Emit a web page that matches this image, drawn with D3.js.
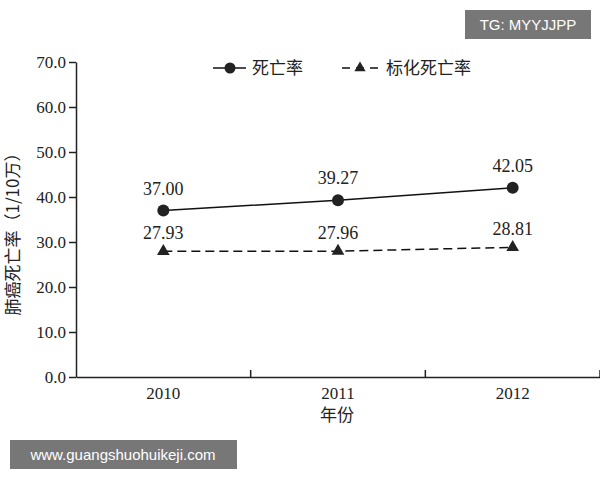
<!DOCTYPE html><html><head><meta charset="utf-8"><script src="https://cdn.jsdelivr.net/npm/d3@7"></script>
<style>body{margin:0;background:#fff}.s{font-family:"Liberation Serif","Times New Roman","DejaVu Serif",serif}.k{font-family:"Noto Sans CJK SC",sans-serif}</style></head><body><svg id="c" width="600" height="480"></svg><script>
const years=["2010","2011","2012"];
const rate=[37.00,39.27,42.05];
const stdRate=[27.93,27.96,28.81];
const yTicks=[0,10,20,30,40,50,60,70];
const svg=d3.select("#c");
const x=d3.scaleBand().domain(years).range([76,600]);
const y=d3.scaleLinear().domain([0,70]).range([377,62]);
const ya=svg.append("g").attr("transform","translate(76,0)").call(d3.axisLeft(y).tickValues(yTicks).tickFormat(d3.format(".1f")).tickSize(7).tickSizeOuter(0));
const xa=svg.append("g").attr("transform","translate(0,377)").call(d3.axisBottom(x).tickSize(0).tickSizeOuter(0).tickPadding(10));
[ya,xa].forEach(a=>{a.attr("font-family",null);a.selectAll("path,line").attr("stroke","#222").attr("stroke-width",1.5);a.selectAll("text").attr("class","s").attr("font-size",17).attr("fill","#222");});
xa.selectAll(".b").data(years).enter().append("line").attr("x1",d=>x(d)+x.bandwidth()).attr("x2",d=>x(d)+x.bandwidth()).attr("y1",0).attr("y2",-7).attr("stroke","#222").attr("stroke-width",1.5);
const cx=d=>x(d)+x.bandwidth()/2;
const line=d3.line().x((d,i)=>cx(years[i])).y(d=>y(d));
svg.append("path").attr("d",line(rate)).attr("fill","none").attr("stroke","#111").attr("stroke-width",1.5);
svg.append("path").attr("d",line(stdRate)).attr("fill","none").attr("stroke","#111").attr("stroke-width",1.5).attr("stroke-dasharray","9,5");
svg.selectAll(".c").data(rate).enter().append("circle").attr("cx",(d,i)=>cx(years[i])).attr("cy",d=>y(d)).attr("r",6).attr("fill","#222");
const tri=d3.symbol().type(d3.symbolTriangle).size(70);
svg.selectAll(".t").data(stdRate).enter().append("path").attr("d",tri).attr("transform",(d,i)=>`translate(${cx(years[i])},${y(d)})`).attr("fill","#222");
const lab=(arr,dy)=>svg.selectAll(null).data(arr).enter().append("text").attr("class","s").attr("x",(d,i)=>cx(years[i])).attr("y",d=>y(d)+dy).attr("text-anchor","middle").attr("font-size",18).attr("fill","#222").text(d=>d.toFixed(2));
lab(rate,-16);lab(stdRate,-12);
const lg=svg.append("g");
lg.append("line").attr("x1",213).attr("x2",246).attr("y1",68).attr("y2",68).attr("stroke","#111").attr("stroke-width",1.5);
lg.append("circle").attr("cx",230).attr("cy",68).attr("r",5.5).attr("fill","#222");
lg.append("text").attr("class","k").attr("x",252).attr("y",74).attr("font-size",17).attr("fill","#222").text("死亡率");
lg.append("line").attr("x1",342).attr("x2",378).attr("y1",68).attr("y2",68).attr("stroke","#111").attr("stroke-width",1.5).attr("stroke-dasharray","8,6");
lg.append("path").attr("d",d3.symbol().type(d3.symbolTriangle).size(55)).attr("transform","translate(360,68)").attr("fill","#222");
lg.append("text").attr("class","k").attr("x",386).attr("y",74).attr("font-size",17).attr("fill","#222").text("标化死亡率");
svg.append("text").attr("class","k").attr("x",337).attr("y",421).attr("text-anchor","middle").attr("font-size",17).attr("fill","#222").text("年份");
svg.append("text").attr("class","k").attr("transform","translate(19,230) rotate(-90)").attr("text-anchor","middle").attr("font-size",17).attr("fill","#222").text("肺癌死亡率（1/10万）");
svg.append("rect").attr("x",465).attr("y",10).attr("width",126).attr("height",29).attr("fill","#777");
svg.append("text").attr("x",528).attr("y",30).attr("text-anchor","middle").attr("font-family","'Liberation Sans',sans-serif").attr("font-size",15).attr("fill","#fff").text("TG: MYYJJPP");
svg.append("rect").attr("x",10).attr("y",440).attr("width",227).attr("height",29).attr("fill","#777");
svg.append("text").attr("x",123).attr("y",460).attr("text-anchor","middle").attr("font-family","'Liberation Sans',sans-serif").attr("font-size",15).attr("fill","#fff").text("www.guangshuohuikeji.com");
</script></body></html>
